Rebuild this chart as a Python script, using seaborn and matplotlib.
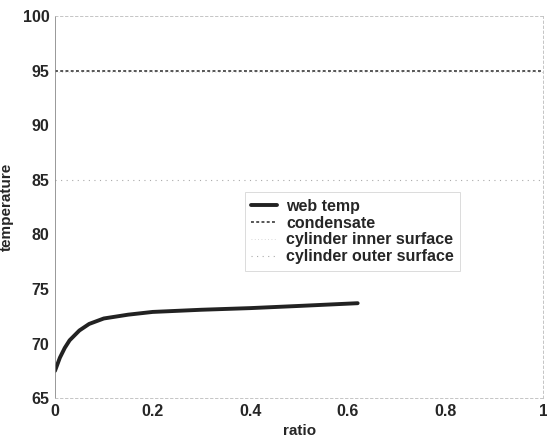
import matplotlib
matplotlib.use("Agg")
import matplotlib.pyplot as plt
import seaborn as sns
import pandas as pd

# data
ratio = [0.0, 0.01, 0.02, 0.03, 0.05, 0.07, 0.10, 0.15, 0.20, 0.30, 0.40, 0.50, 0.62]
web_temp = [67.5, 68.7, 69.6, 70.3, 71.2, 71.8, 72.3, 72.65, 72.9, 73.1, 73.25, 73.45, 73.7]
const_x = [0.0, 1.0]
condensate = [95.0, 95.0]
cyl_inner = [94.9, 94.9]
cyl_outer = [85.0, 85.0]
xticks = [0, 0.2, 0.4, 0.6, 0.8, 1]
xticklabels = ["0", "0.2", "0.4", "0.6", "0.8", "1"]
yticks = [65, 70, 75, 80, 85, 90, 95, 100]

sns.set_style("white")
plt.rcParams['font.family'] = ['Liberation Sans', 'DejaVu Sans']

fig = plt.figure(figsize=(5.47, 4.38), dpi=100)
ax = fig.add_axes([0.1005, 0.091, 0.8925, 0.872])

sns.lineplot(x=ratio, y=web_temp, ax=ax, color="#222222", lw=2.8, label="web temp")
sns.lineplot(x=const_x, y=condensate, ax=ax, color="#555555", lw=1.4,
             linestyle=(0, (1.5, 1.2)), label="condensate")
sns.lineplot(x=const_x, y=cyl_inner, ax=ax, color="#cccccc", lw=0.6,
             linestyle=(0, (1, 3)), label="cylinder inner surface")
sns.lineplot(x=const_x, y=cyl_outer, ax=ax, color="#aaaaaa", lw=0.8,
             linestyle=(0, (1, 4)), label="cylinder outer surface")

ax.set_xlim(0, 1)
ax.set_ylim(65, 100)
ax.set_xticks(xticks)
ax.set_xticklabels(xticklabels)
ax.set_yticks(yticks)
ax.tick_params(direction="in", length=4, color="#bbbbbb", width=0.6,
               labelsize=11.5, pad=4)
for lab in ax.get_xticklabels() + ax.get_yticklabels():
    lab.set_fontweight("bold")
for s in ax.spines.values():
    s.set_color("#bbbbbb")
    s.set_linewidth(0.6)
    s.set_linestyle((0, (3, 3)))
ax.spines["left"].set_linestyle("-")
ax.spines["left"].set_color("#888888")

ax.set_xlabel("ratio", fontsize=11, fontweight="bold", labelpad=4)
ax.set_ylabel("temperature", fontsize=11, fontweight="bold", labelpad=6)

leg = ax.legend(loc="upper left", bbox_to_anchor=(0.372, 0.56), fontsize=11.5,
                frameon=True, fancybox=False, handlelength=1.6,
                handletextpad=0.6, labelspacing=0.12, borderpad=0.4)
leg.get_frame().set_edgecolor("#cccccc")
leg.get_frame().set_linewidth(0.6)
for t in leg.get_texts():
    t.set_fontweight("bold")

fig.savefig("out.png", dpi=100)
